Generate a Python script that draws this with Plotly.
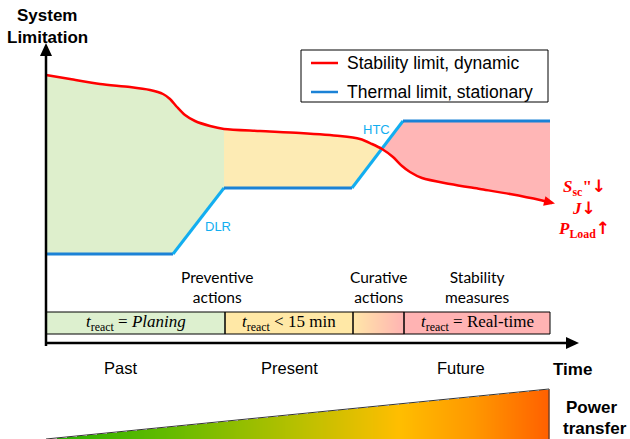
import numpy as np
import plotly.graph_objects as go

# ---- data (pixel-space coordinates, y grows downward) ----
red_x = [46, 70, 100, 130, 150, 163, 170, 177, 185, 195, 210, 224, 260, 300, 340, 360, 372, 382, 393, 402, 410, 422, 450, 480, 510, 540, 552]
red_y = [75, 79, 84, 87, 90, 94, 99, 107, 115, 121, 126, 129, 131, 133, 136, 139, 144, 149, 157, 166, 172, 178, 184, 189, 194, 200, 203]
blue_x = [46, 173, 224, 352, 403, 550]
blue_y = [254, 254, 188, 188, 121, 121]

phase_edges = [46, 225, 353, 404, 550]          # bar cell boundaries
phase_labels = ["<i>t</i><sub>react</sub> = <i>Planing</i>",
                "<i>t</i><sub>react</sub> &lt; 15 min",
                "",
                "<i>t</i><sub>react</sub> = Real-time"]
action_labels = ["Preventive<br>actions", "Curative<br>actions", "Stability<br>measures"]
action_x = [217, 379, 477]
era_labels = ["Past", "Present", "Future"]
era_x = [120, 289, 461]
legend_labels = ["Stability limit, dynamic", "Thermal limit, stationary"]

RED = "#ff0000"
BLUE_FLAT = "#1b82d6"
BLUE_DIAG = "#12aef0"
GREEN_F = "#deefcc"
YELLOW_F = "#fdebb4"
PINK_F = "#ffb6b6"

rx = np.array(red_x, float); ry = np.array(red_y, float)
bx = np.array(blue_x, float); by = np.array(blue_y, float)

# crossing of the two limits
xs = np.linspace(353, 402, 500)
d = np.interp(xs, rx, ry) - np.interp(xs, bx, by)
xc = xs[np.argmin(np.abs(d))]; yc = np.interp(xc, bx, by)

fig = go.Figure()

# gradient triangle (power transfer)
tri_x = np.arange(46, 550, 1.0)
tri_y = np.arange(388, 441, 1.0)
top = 439 - (tri_x - 46) * (439 - 389) / (549 - 46)
Z = np.where(tri_y[:, None] >= top[None, :], tri_x[None, :], np.nan)
fig.add_trace(go.Heatmap(x=tri_x, y=tri_y, z=Z, showscale=False, hoverinfo="skip",
                         zmin=46, zmax=549,
                         colorscale=[[0, "#22b000"], [0.25, "#66bb00"], [0.5, "#b8c000"],
                                     [0.7, "#ffbe00"], [0.85, "#ff9800"], [1, "#ff6000"]]))
fig.add_trace(go.Scatter(x=[46, 549, 549], y=[439, 389, 440], mode="lines",
                         line=dict(color="#333333", width=1), hoverinfo="skip", showlegend=False))

# curative gradient cell
gx = np.arange(phase_edges[2], phase_edges[3] + 1, 1.0)
gy = np.arange(312, 335, 1.0)
fig.add_trace(go.Heatmap(x=gx, y=gy, z=np.tile(gx, (len(gy), 1)), showscale=False, hoverinfo="skip",
                         colorscale=[[0, "#ffe6a8"], [1, "#ffb3b3"]]))

# filled regions
m = rx <= 224
gxp = list(rx[m]) + [224, 173, 46]
gyp = list(ry[m]) + [188, 254, 254]
fig.add_trace(go.Scatter(x=gxp, y=gyp, fill="toself", fillcolor=GREEN_F, mode="none", hoverinfo="skip"))
m = (rx >= 224) & (rx < xc)
yxp = [224] + list(rx[m]) + [xc, 352, 224]
yyp = [np.interp(224, rx, ry)] + list(ry[m]) + [yc, 188, 188]
fig.add_trace(go.Scatter(x=yxp, y=yyp, fill="toself", fillcolor=YELLOW_F, mode="none", hoverinfo="skip"))
m = (rx > xc) & (rx < 550)
pxp = [xc, 403, 550, 550] + list(rx[m][::-1])
pyp = [yc, 121, 121, np.interp(550, rx, ry)] + list(ry[m][::-1])
fig.add_trace(go.Scatter(x=pxp, y=pyp, fill="toself", fillcolor=PINK_F, mode="none", hoverinfo="skip"))

# thermal limit
for i in range(len(bx) - 1):
    col = BLUE_FLAT if by[i] == by[i + 1] else BLUE_DIAG
    fig.add_trace(go.Scatter(x=[bx[i], bx[i + 1]], y=[by[i], by[i + 1]], mode="lines",
                             line=dict(color=col, width=3), hoverinfo="skip"))
# stability limit
fig.add_trace(go.Scatter(x=red_x, y=red_y, mode="lines",
                         line=dict(color=RED, width=2.5, shape="spline", smoothing=0.8), hoverinfo="skip"))


def arrowhead(tipx, tipy, fromx, fromy, length, half):
    v = np.array([tipx - fromx, tipy - fromy], float)
    v /= np.linalg.norm(v)
    n = np.array([-v[1], v[0]])
    b = np.array([tipx, tipy]) - v * length
    p1 = b + n * half; p2 = b - n * half
    return f"M {tipx},{tipy} L {p1[0]:.2f},{p1[1]:.2f} L {p2[0]:.2f},{p2[1]:.2f} Z"


shapes = []
# bar cells
bar_cols = ["#ddf0cf", "#ffe8a6", None, "#ffb3b3"]
for i in range(4):
    if bar_cols[i]:
        shapes.append(dict(type="rect", x0=phase_edges[i], x1=phase_edges[i + 1], y0=312, y1=334,
                           fillcolor=bar_cols[i], line=dict(width=0), layer="below"))
for i in range(4):
    shapes.append(dict(type="rect", x0=phase_edges[i], x1=phase_edges[i + 1], y0=312, y1=334,
                       line=dict(color="black", width=1)))
# axes
shapes.append(dict(type="line", x0=46, x1=46, y0=346, y1=54, line=dict(color="black", width=2.5)))
shapes.append(dict(type="line", x0=45, x1=569, y0=343, y1=343, line=dict(color="black", width=2.5)))
shapes.append(dict(type="path", path=arrowhead(46, 43, 46, 346, 13, 6), fillcolor="black", line=dict(width=0)))
shapes.append(dict(type="path", path=arrowhead(579, 343, 45, 343, 13, 6), fillcolor="black", line=dict(width=0)))
shapes.append(dict(type="path", path=arrowhead(555, 203.5, red_x[-2], red_y[-2], 11, 5),
                   fillcolor=RED, line=dict(width=0)))
# legend
shapes.append(dict(type="rect", x0=301, x1=548, y0=50, y1=102, fillcolor="white",
                   line=dict(color="black", width=1)))
shapes.append(dict(type="line", x0=311, x1=338, y0=63, y1=63, line=dict(color=RED, width=2.5)))
shapes.append(dict(type="line", x0=311, x1=338, y0=92, y1=92, line=dict(color=BLUE_FLAT, width=2.5)))

ann = []
AR = "Liberation Sans, Arial, sans-serif"
SERIF = "Liberation Serif, Times New Roman, serif"
CAL = "Lato, Carlito, sans-serif"


def txt(x, y, t, size, font=AR, color="black", xanchor="center"):
    ann.append(dict(x=x, y=y, xref="x", yref="y", text=t, showarrow=False, xanchor=xanchor,
                    yanchor="middle", font=dict(family=font, size=size, color=color)))


txt(47, 15, "<b>System</b>", 17)
txt(47, 37, "<b>Limitation</b>", 17)
for lab, y in zip(legend_labels, [63, 92]):
    txt(345, y, lab, 17.5, xanchor="left")
for i, lab in enumerate(phase_labels):
    if lab:
        txt((phase_edges[i] + phase_edges[i + 1]) / 2, 323, lab, 17, font=SERIF)
for lab, x in zip(action_labels, action_x):
    txt(x, 287, lab, 15.5, font=CAL)
for lab, x in zip(era_labels, era_x):
    txt(x, 368, lab, 16.5)
txt(572, 369, "<b>Time</b>", 17)
txt(591, 407, "<b>Power</b>", 17)
txt(595, 428, "<b>transfer</b>", 17)
txt(218, 226, "DLR", 13, color=BLUE_DIAG)
txt(376, 129, "HTC", 13, color=BLUE_DIAG)
ARW = "<span style=\"font-family:'DejaVu Sans'\"><b>%s</b></span>"
txt(584, 187, "<b><i>S</i><sub>sc</sub>\"</b>" + ARW % "↓", 17, font=SERIF, color=RED)
txt(584, 208, "<b><i>J</i></b>" + ARW % "↓", 17, font=SERIF, color=RED)
txt(584, 229, "<b><i>P</i><sub>Load</sub></b>" + ARW % "↑", 17, font=SERIF, color=RED)

fig.update_layout(width=630, height=439, margin=dict(l=0, r=0, t=0, b=0),
                  paper_bgcolor="white", plot_bgcolor="white", showlegend=False,
                  shapes=shapes, annotations=ann,
                  xaxis=dict(range=[0, 630], visible=False, fixedrange=True),
                  yaxis=dict(range=[439, 0], visible=False, fixedrange=True))
fig.write_html("out.html", config={"displayModeBar": False},
               post_script="document.body.style.margin='0';document.body.style.padding='0';document.body.style.overflow='hidden';")
